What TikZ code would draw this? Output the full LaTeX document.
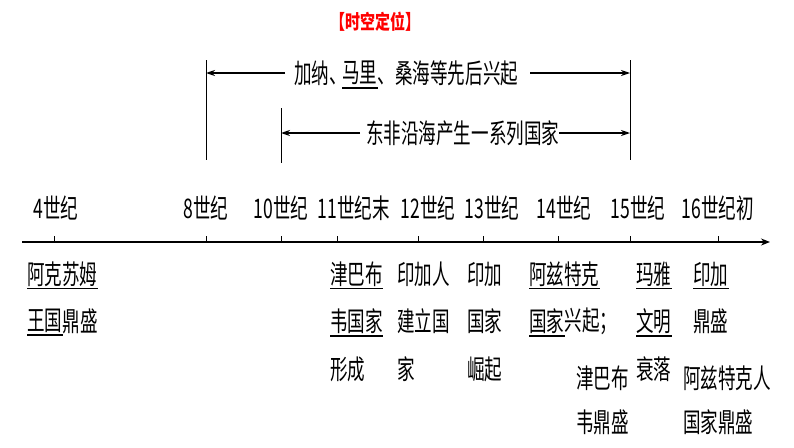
\documentclass[tikz,border=0pt]{standalone}
\usepackage{fontspec}
\setmainfont{Noto Sans CJK SC}
\usetikzlibrary{arrows.meta}
\newcommand{\nz}[1]{\scalebox{0.65}[1]{#1}}
\begin{document}
\begin{tikzpicture}[x=1pt,y=-1pt,
  txt/.style={anchor=west,inner sep=0pt,font=\fontsize{27}{27}\selectfont},
  ul/.style={line width=1.6pt},
  ax/.style={line width=1.2pt,-{Stealth[length=9pt,width=7pt]}},
  vl/.style={line width=0.6pt},
  arr/.style={line width=1.3pt,-{Stealth[length=9pt,width=6pt]}}]
\useasboundingbox (0,0) rectangle (794,447);
\node[inner sep=0pt,text=red,font=\fontsize{20}{20}\selectfont\bfseries] (title) at (375,22) {\scalebox{0.75}[1]{【时空定位】}};
% top spans
\coordinate (a8t) at (206,60); \coordinate (a8b) at (206,160);
\coordinate (a10t) at (281,108); \coordinate (a10b) at (281,163);
\coordinate (a15t) at (630,60); \coordinate (a15b) at (630,160);
\draw[vl] (a8t)--(a8b); \draw[vl] (a10t)--(a10b); \draw[vl] (a15t)--(a15b);
\node[txt] (s1a) at (294,73) {\nz{加纳、}};
\node[txt] (s1b) at ([xshift=-5pt]s1a.east) {\nz{马里}};
\node[txt] (s1c) at (s1b.east) {\nz{、桑海等先后兴起}};
\draw[ul] ([yshift=-3pt]s1b.south west)--([yshift=-3pt]s1b.south east);
\coordinate (s1l) at (206,73); \coordinate (s1r) at (630,73);
\draw[arr] (s1a.west)++(-9,0) -- (s1l);
\draw[arr] (s1c.east)++(12,0) -- (s1r);
\node[txt] (s2) at (366,133) {\nz{东非沿海产生一系列国家}};
\coordinate (s2l) at (281,133); \coordinate (s2r) at (630,133);
\draw[arr] (s2.west)++(-6,0) -- (s2l);
\draw[arr] (s2.east) -- (s2r);
% axis
\coordinate (ax0) at (22,242); \coordinate (ax1) at (770,242);
\draw[ax] (ax0)--(ax1);
\foreach \x/\n/\t in {56/c4/4世纪,206/c8/8世纪,281/c10/10世纪,354/c11/11世纪末,428/c12/12世纪,492/c13/13世纪,564/c14/14世纪,638/c15/15世纪,718/c16/16世纪初}{
  \node[inner sep=0pt,font=\fontsize{27}{27}\selectfont] (\n) at (\x,208) {\nz{\t}};
}
\foreach \x in {54,206,281,337,418,483,558,630,718}{\draw[vl] (\x,236)--(\x,242);}
% bottom texts
\newcommand{\TL}[5]{\node[txt] (#1) at (#2,#3) {\nz{#4}};\ifnum#5=1 \draw[ul] ([yshift=-2pt]#1.south west)--([yshift=-2pt]#1.south east);\fi}
\TL{b1}{27}{274}{阿克苏姆}{1}
\TL{b2}{27}{321}{王国}{1}\node[txt] (b2r) at (b2.east) {\nz{鼎盛}};
\TL{c1}{330}{274}{津巴布}{1}
\TL{c2}{330}{321}{韦国家}{1}
\TL{c3}{330}{369}{形成}{0}
\TL{d1}{397}{274}{印加人}{0}
\TL{d2}{397}{321}{建立国}{0}
\TL{d3}{397}{369}{家}{0}
\TL{e1}{467}{274}{印加}{0}
\TL{e2}{467}{321}{国家}{0}
\TL{e3}{467}{369}{崛起}{0}
\TL{f1}{529}{274}{阿兹特克}{1}
\TL{f2}{529}{321}{国家}{1}\node[txt] (f2r) at (f2.east) {\nz{兴起；}};
\TL{g1}{576}{378}{津巴布}{0}
\TL{g2}{576}{422}{韦鼎盛}{0}
\TL{h1}{636}{274}{玛雅}{1}
\TL{h2}{636}{321}{文明}{1}
\TL{h3}{636}{369}{衰落}{0}
\TL{i1}{693}{274}{印加}{1}
\TL{i2}{693}{321}{鼎盛}{0}
\TL{j1}{683}{378}{阿兹特克人}{0}
\TL{j2}{683}{422}{国家鼎盛}{0}
\end{tikzpicture}
\end{document}
